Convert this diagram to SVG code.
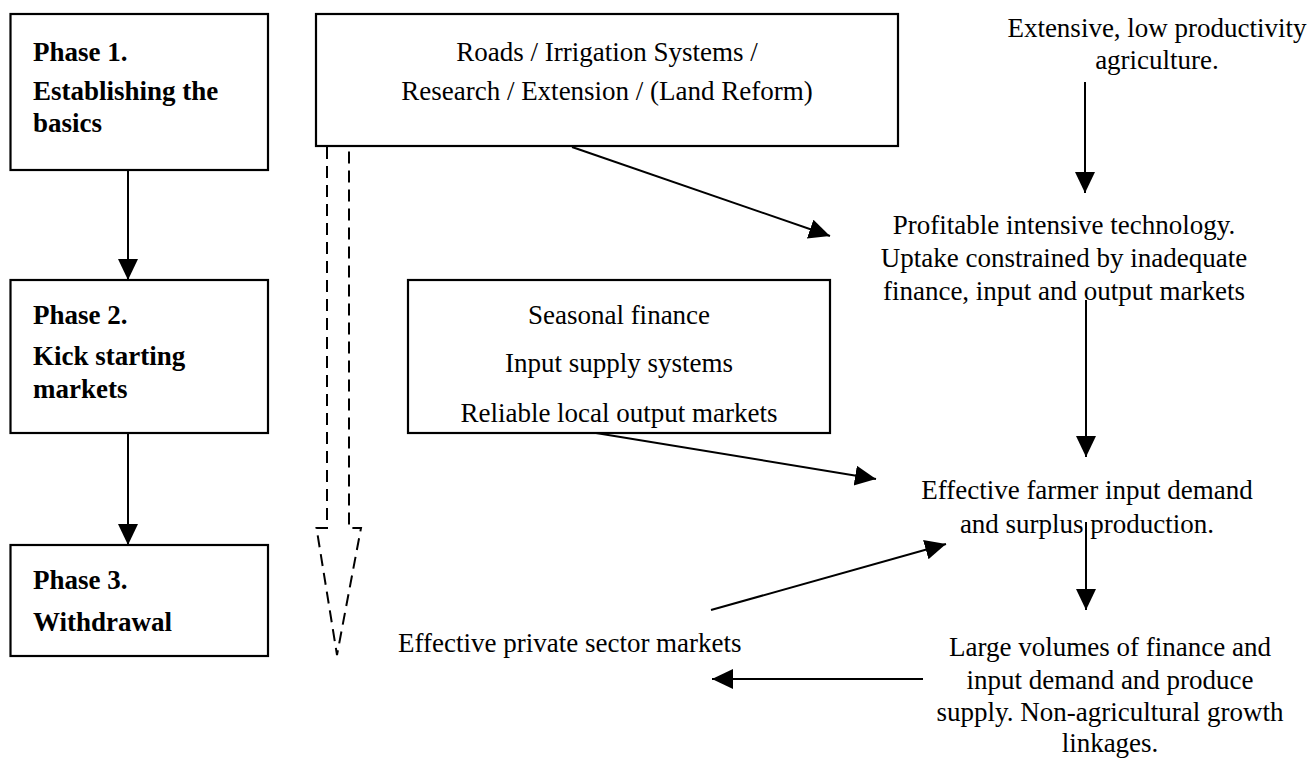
<svg xmlns="http://www.w3.org/2000/svg" width="1309" height="758" viewBox="0 0 1309 758">
  <style>
    .box { fill: #ffffff; stroke: #000000; stroke-width: 2.2; }
    .t { font-family: "Liberation Serif", "Times New Roman", serif; font-size: 27px; fill: #000000; }
    .b { font-weight: bold; }
    .m { text-anchor: middle; }
    .c { fill: none; stroke: #000000; stroke-width: 2; }
    .d { fill: none; stroke: #000000; stroke-width: 2; stroke-dasharray: 12 7; }
  </style>
  <defs>
    <marker id="ah" markerUnits="userSpaceOnUse" markerWidth="24" markerHeight="22" refX="21" refY="10" orient="auto">
      <path d="M0,0 L21,10 L0,20 z" fill="#000000"/>
    </marker>
  </defs>
  <rect width="1309" height="758" fill="#ffffff"/>

  <g id="connectors">
    <line class="c" x1="128" y1="170" x2="128" y2="280" marker-end="url(#ah)"/>
    <line class="c" x1="128" y1="433" x2="128" y2="545" marker-end="url(#ah)"/>
    <path class="d" d="M327,147 V528 H316.5 L337,655 L361,528 H349 V147"/>
    <line class="c" x1="572" y1="147" x2="830" y2="236" marker-end="url(#ah)"/>
    <line class="c" x1="1085" y1="82" x2="1085" y2="193" marker-end="url(#ah)"/>
    <line class="c" x1="1086" y1="300" x2="1086" y2="457" marker-end="url(#ah)"/>
    <line class="c" x1="596" y1="433" x2="876" y2="479" marker-end="url(#ah)"/>
    <line class="c" x1="1086" y1="522" x2="1086" y2="610" marker-end="url(#ah)"/>
    <line class="c" x1="711" y1="610" x2="946" y2="544" marker-end="url(#ah)"/>
    <line class="c" x1="923" y1="679" x2="712" y2="679" marker-end="url(#ah)"/>
  </g>

  <g id="phase1">
    <rect class="box" x="10.5" y="14" width="257.5" height="156"/>
    <text class="t b" x="33" y="61">Phase 1.</text>
    <text class="t b" x="33" y="100">Establishing the</text>
    <text class="t b" x="33" y="132">basics</text>
  </g>
  <g id="phase2">
    <rect class="box" x="10.5" y="280" width="257.5" height="153"/>
    <text class="t b" x="33" y="324">Phase 2.</text>
    <text class="t b" x="33" y="365">Kick starting</text>
    <text class="t b" x="33" y="398">markets</text>
  </g>
  <g id="phase3">
    <rect class="box" x="10.5" y="545" width="257.5" height="111"/>
    <text class="t b" x="33" y="589">Phase 3.</text>
    <text class="t b" x="33" y="631">Withdrawal</text>
  </g>
  <g id="basics">
    <rect class="box" x="316" y="14" width="582" height="132"/>
    <text class="t m" x="607" y="61">Roads / Irrigation Systems /</text>
    <text class="t m" x="607" y="100">Research / Extension / (Land Reform)</text>
  </g>
  <g id="markets">
    <rect class="box" x="408" y="280" width="422" height="153"/>
    <text class="t m" x="619" y="324">Seasonal finance</text>
    <text class="t m" x="619" y="372">Input supply systems</text>
    <text class="t m" x="619" y="422">Reliable local output markets</text>
  </g>
  <g id="extensive">
    <text class="t m" x="1157" y="37">Extensive, low productivity</text>
    <text class="t m" x="1157" y="69">agriculture.</text>
  </g>
  <g id="profitable">
    <text class="t m" x="1064" y="234">Profitable intensive technology.</text>
    <text class="t m" x="1064" y="267">Uptake constrained by inadequate</text>
    <text class="t m" x="1064" y="300">finance, input and output markets</text>
  </g>
  <g id="demand">
    <text class="t m" x="1087" y="499">Effective farmer input demand</text>
    <text class="t m" x="1087" y="533">and surplus production.</text>
  </g>
  <g id="volumes">
    <text class="t m" x="1110" y="656">Large volumes of finance and</text>
    <text class="t m" x="1110" y="689">input demand and produce</text>
    <text class="t m" x="1110" y="721">supply. Non-agricultural growth</text>
    <text class="t m" x="1110" y="752">linkages.</text>
  </g>
  <g id="private">
    <text class="t" x="398" y="652">Effective private sector markets</text>
  </g>
</svg>
